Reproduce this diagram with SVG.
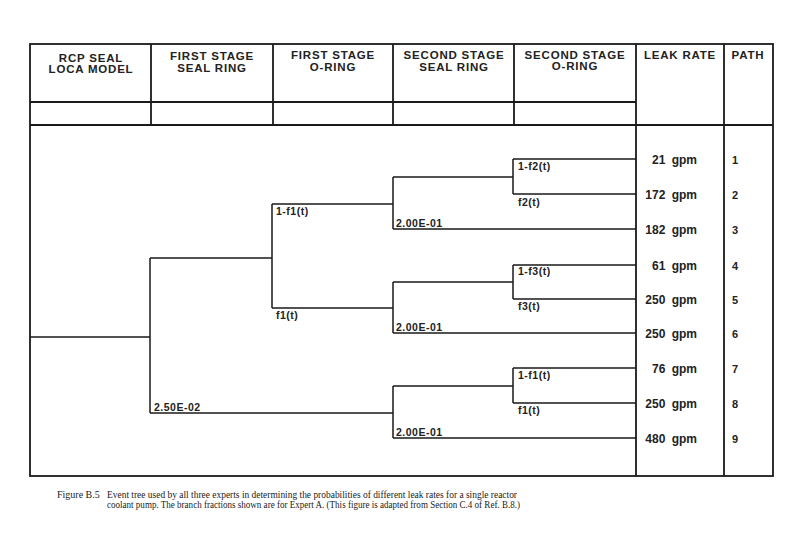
<svg xmlns="http://www.w3.org/2000/svg" width="800" height="550" viewBox="0 0 800 550">
<style>
.frame{fill:none;stroke:#1a1a1a;stroke-width:1.8}
.branch{fill:none;stroke:#1a1a1a;stroke-width:1.5}
.hdr{font-family:"Liberation Sans",Arial,sans-serif;font-size:11.5px;font-weight:bold;fill:#222;text-anchor:middle;letter-spacing:0.8px}
.lbl{font-family:"Liberation Sans",Arial,sans-serif;font-size:10.5px;font-weight:bold;fill:#222;letter-spacing:0.5px}
.rate{font-family:"Liberation Sans",Arial,sans-serif;font-size:12px;font-weight:bold;fill:#222;text-anchor:end;word-spacing:3px}
.path{font-family:"Liberation Sans",Arial,sans-serif;font-size:11px;font-weight:bold;fill:#222}
.cap{font-family:"Liberation Serif","Times New Roman",serif;font-size:10px;fill:#222}
</style>
<rect width="800" height="550" fill="#ffffff"/>
<g id="table">
<rect class="frame" x="30" y="44" width="743" height="432"/>
<line class="frame" x1="30" y1="102" x2="636" y2="102"/>
<line class="frame" x1="30" y1="125" x2="773" y2="125"/>
<line class="frame" x1="151" y1="44" x2="151" y2="125"/>
<line class="frame" x1="273" y1="44" x2="273" y2="125"/>
<line class="frame" x1="393" y1="44" x2="393" y2="125"/>
<line class="frame" x1="514" y1="44" x2="514" y2="125"/>
<line class="frame" x1="636" y1="44" x2="636" y2="476"/>
<line class="frame" x1="724" y1="44" x2="724" y2="476"/>
</g>
<g id="headers">
<text class="hdr" x="91" y="62">RCP SEAL</text>
<text class="hdr" x="91" y="73">LOCA MODEL</text>
<text class="hdr" x="212" y="60">FIRST STAGE</text>
<text class="hdr" x="212" y="72">SEAL RING</text>
<text class="hdr" x="333" y="59">FIRST STAGE</text>
<text class="hdr" x="333" y="71">O-RING</text>
<text class="hdr" x="454" y="59">SECOND STAGE</text>
<text class="hdr" x="454" y="71">SEAL RING</text>
<text class="hdr" x="575" y="59">SECOND STAGE</text>
<text class="hdr" x="575" y="70">O-RING</text>
<text class="hdr" x="680" y="59">LEAK RATE</text>
<text class="hdr" x="748" y="59">PATH</text>
</g>
<g id="connectors">
<path class="branch" d="M30 337H150M150 258V413M150 258H272M150 413H393"/>
<path class="branch" d="M272 204V308M272 204H393M272 308H393"/>
<path class="branch" d="M393 177V229M393 177H513M393 229H636M513 159V194M513 159H636M513 194H636"/>
<path class="branch" d="M393 282V333M393 282H513M393 333H636M513 265V299M513 265H636M513 299H636"/>
<path class="branch" d="M393 386V438M393 386H513M393 438H636M513 368V403M513 368H636M513 403H636"/>
</g>
<g id="branch-labels">
<text class="lbl" x="276" y="215">1-f1(t)</text>
<text class="lbl" x="276" y="319">f1(t)</text>
<text class="lbl" x="154" y="411">2.50E-02</text>
<text class="lbl" x="396" y="227">2.00E-01</text>
<text class="lbl" x="396" y="331">2.00E-01</text>
<text class="lbl" x="396" y="436">2.00E-01</text>
<text class="lbl" x="518" y="170">1-f2(t)</text>
<text class="lbl" x="518" y="206">f2(t)</text>
<text class="lbl" x="518" y="275">1-f3(t)</text>
<text class="lbl" x="518" y="310">f3(t)</text>
<text class="lbl" x="518" y="379">1-f1(t)</text>
<text class="lbl" x="518" y="414">f1(t)</text>
</g>
<g id="leak-rates">
<text class="rate" x="697" y="164">21 gpm</text>
<text class="rate" x="697" y="199">172 gpm</text>
<text class="rate" x="697" y="234">182 gpm</text>
<text class="rate" x="697" y="270">61 gpm</text>
<text class="rate" x="697" y="304">250 gpm</text>
<text class="rate" x="697" y="338">250 gpm</text>
<text class="rate" x="697" y="373">76 gpm</text>
<text class="rate" x="697" y="408">250 gpm</text>
<text class="rate" x="697" y="443">480 gpm</text>
</g>
<g id="paths">
<text class="path" x="732" y="164">1</text>
<text class="path" x="732" y="199">2</text>
<text class="path" x="732" y="234">3</text>
<text class="path" x="732" y="270">4</text>
<text class="path" x="732" y="304">5</text>
<text class="path" x="732" y="338">6</text>
<text class="path" x="732" y="373">7</text>
<text class="path" x="732" y="408">8</text>
<text class="path" x="732" y="443">9</text>
</g>
<g id="caption">
<text class="cap" x="57" y="498">Figure B.5</text>
<text class="cap" x="107" y="498" textLength="410" lengthAdjust="spacingAndGlyphs">Event tree used by all three experts in determining the probabilities of different leak rates for a single reactor</text>
<text class="cap" x="107" y="508" textLength="413" lengthAdjust="spacingAndGlyphs">coolant pump. The branch fractions shown are for Expert A. (This figure is adapted from Section C.4 of Ref. B.8.)</text>
</g>
</svg>
